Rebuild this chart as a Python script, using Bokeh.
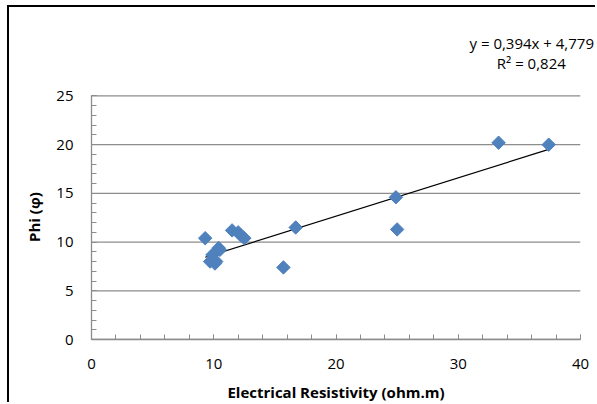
import numpy as np
from bokeh.plotting import figure
from bokeh.models import FixedTicker, Range1d
from bokeh.embed import file_html
from bokeh.resources import INLINE

# data
resistivity = [9.3, 9.7, 9.9, 10.1, 10.2, 10.4, 10.5, 11.5, 12.0, 12.2, 12.5, 15.7, 16.7, 24.9, 25.0, 33.3, 37.4]
phi = [10.4, 8.0, 8.7, 7.8, 8.0, 9.4, 9.2, 11.2, 11.0, 10.7, 10.4, 7.4, 11.5, 14.6, 11.3, 20.2, 20.0]
slope = 0.394
intercept = 4.779
r2 = 0.824
x_ticks = [0, 10, 20, 30, 40]
y_ticks = [0, 5, 10, 15, 20, 25]

FONT = "Open Sans"
GRAY = "#8c8c8c"

p = figure(width=588, height=397, output_backend="svg", toolbar_location=None,
           x_range=Range1d(0, 40), y_range=Range1d(0, 25.15),
           min_border_left=82, min_border_right=17, min_border_top=87, min_border_bottom=64)
p.styles = {"margin-left": "7px", "margin-top": "5px",
            "border-left": "2px solid black", "border-top": "2px solid black"}

p.outline_line_color = None
p.xgrid.grid_line_color = None
p.ygrid.grid_line_color = None

# horizontal gridlines at the y ticks
p.segment(x0=[x_ticks[0]] * len(y_ticks), y0=y_ticks, x1=[x_ticks[-1]] * len(y_ticks), y1=y_ticks,
          line_color=GRAY, line_width=1.3)

p.xaxis.ticker = FixedTicker(ticks=x_ticks, minor_ticks=list(range(0, 41, 2)))
p.yaxis.ticker = FixedTicker(ticks=y_ticks, minor_ticks=list(range(0, 26, 1)))
p.xaxis.bounds = (x_ticks[0], x_ticks[-1])
p.yaxis.bounds = (y_ticks[0], y_ticks[-1])

for ax in (p.xaxis, p.yaxis):
    ax.axis_line_color = GRAY
    ax.axis_line_width = 1.3
    ax.major_tick_line_color = GRAY
    ax.minor_tick_line_color = GRAY
    ax.major_tick_in = 5
    ax.major_tick_out = 0
    ax.minor_tick_in = 5
    ax.minor_tick_out = 0
    ax.major_label_text_font = FONT
    ax.major_label_text_font_size = "15px"
    ax.major_label_text_color = "#000000"
    ax.axis_label_text_font = FONT
    ax.axis_label_text_font_size = "15px"
    ax.axis_label_text_font_style = "bold"
    ax.axis_label_text_color = "#000000"

p.xaxis.major_label_standoff = 19
p.yaxis.major_label_standoff = 18
p.xaxis.axis_label = "Electrical Resistivity (ohm.m)"
p.yaxis.axis_label = "Phi (φ)"
p.xaxis.axis_label_standoff = 10
p.yaxis.axis_label_standoff = 9

# trendline
xs = np.array([min(resistivity), max(resistivity)])
p.line(xs, slope * xs + intercept, line_color="black", line_width=1.2)

p.scatter(resistivity, phi, marker="square", size=9.5, angle=np.pi / 4,
          fill_color="#4f81bd", line_color="#4f81bd")

eq = "y = " + f"{slope:.3f}".replace(".", ",") + "x + " + f"{intercept:.3f}".replace(".", ",")
rr = "R² = " + f"{r2:.3f}".replace(".", ",")

# trendline equation and R² as a two-line title block
p.title.text = eq + "\n" + "\u00a0" * 7 + rr
p.title.align = "left"
p.title.offset = 378
p.title.standoff = 40
p.title.vertical_align = "top"
p.title.text_line_height = 1.0
p.title.text_font = FONT
p.title.text_font_size = "15px"
p.title.text_font_style = "normal"
p.title.text_color = "black"

open("out.html", "w").write(file_html(p, INLINE))
